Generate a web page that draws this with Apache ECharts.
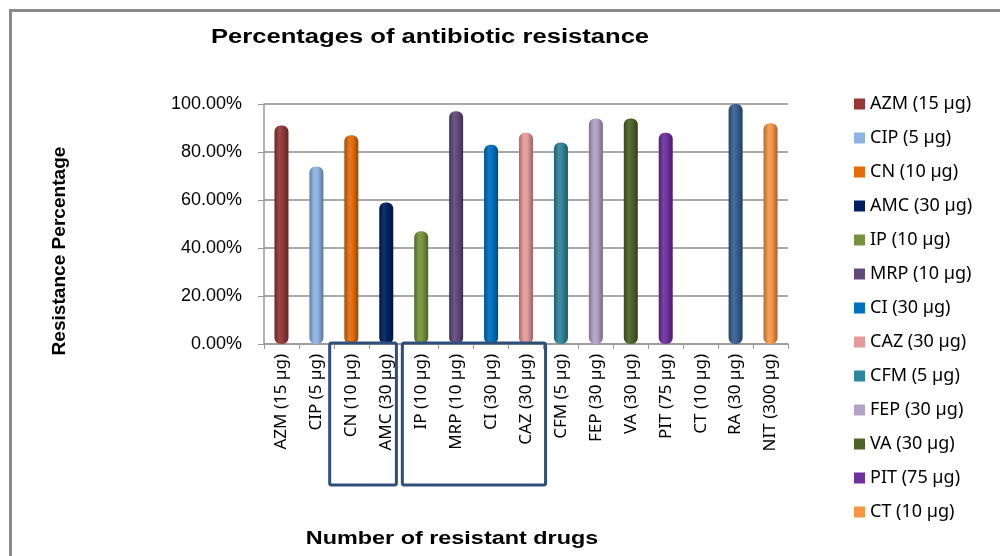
<!DOCTYPE html>
<html>
<head>
<meta charset="utf-8">
<script src="https://cdn.jsdelivr.net/npm/echarts@6/dist/echarts.min.js"></script>
<style>
html,body{margin:0;padding:0;background:#fff;}
#main{width:1000px;height:556px;}
</style>
</head>
<body>
<div id="main"></div>
<script>
var categories = ['AZM (15 µg)','CIP (5 µg)','CN (10 µg)','AMC (30 µg)','IP (10 µg)','MRP (10 µg)','CI (30 µg)','CAZ (30 µg)','CFM (5 µg)','FEP (30 µg)','VA (30 µg)','PIT (75 µg)','CT (10 µg)','RA (30 µg)','NIT (300 µg)'];
var values = [91, 74, 87, 59, 47, 97, 83, 88, 84, 94, 94, 88, 0, 100, 92];
var colors = ['#953735','#8EB4E3','#E46C0A','#002060','#77933C','#604A7B','#0070C0','#E6999A','#31859C','#B3A2C7','#4F6228','#7030A0','#F79646','#376092','#F79646'];
var legendNames = categories.slice(0, 13);
var yTicks = [0, 20, 40, 60, 80, 100];
var boxGroups = [[2, 3], [4, 7]];

function shade(hex, f) {
  var n = parseInt(hex.slice(1), 16);
  var r = (n >> 16) & 255, g = (n >> 8) & 255, b = n & 255;
  function s(c) { return Math.max(0, Math.min(255, Math.round(f < 0 ? c * (1 + f) : c + (255 - c) * f))); }
  return 'rgb(' + s(r) + ',' + s(g) + ',' + s(b) + ')';
}

var chart = echarts.init(document.getElementById('main'));
var series = categories.map(function (name, i) {
  return {
    name: name,
    type: 'bar',
    barWidth: 14,
    barGap: '-100%',
    data: categories.map(function (c, j) { return j === i ? values[i] : '-'; }),
    itemStyle: {
      color: new echarts.graphic.LinearGradient(0, 0, 1, 0, [
        { offset: 0, color: shade(colors[i], -0.3) },
        { offset: 0.35, color: shade(colors[i], 0.08) },
        { offset: 0.6, color: colors[i] },
        { offset: 1, color: shade(colors[i], -0.35) }
      ]),
      borderRadius: [6, 6, 6, 6]
    },
    emphasis: { disabled: true }
  };
});

var option = {
  animation: false,
  backgroundColor: '#fff',
  color: colors,
  legend: {
    data: legendNames.map(function (n, i) { return { name: n, itemStyle: { color: colors[i] } }; }),
    orient: 'vertical',
    left: 849,
    top: 89,
    itemWidth: 11,
    itemHeight: 11,
    itemGap: 14,
    icon: 'rect',
    textStyle: { fontFamily: 'Noto Sans', fontSize: 18, color: '#000', lineHeight: 20, padding: [0, 0, 0, 0] }
  },
  grid: { left: 264, right: 212, top: 104, bottom: 212, containLabel: false },
  xAxis: {
    type: 'category',
    data: categories,
    axisLine: { lineStyle: { color: '#999', width: 1.5 } },
    axisTick: { show: true, length: 5, lineStyle: { color: '#999' } },
    axisLabel: { rotate: 90, fontFamily: 'Noto Sans', fontSize: 17, color: '#000', margin: 10, interval: 0 }
  },
  yAxis: {
    type: 'value',
    min: 0, max: 100, interval: 20,
    axisLine: { show: true, lineStyle: { color: '#999', width: 1.5 } },
    axisTick: { show: true, length: 6, lineStyle: { color: '#999' } },
    splitLine: { lineStyle: { color: '#8c8c8c', width: 1.5 } },
    axisLabel: { fontFamily: 'Liberation Sans', fontSize: 18, color: '#000', margin: 22,
      formatter: function (v) { return yTicks.indexOf(v) >= 0 ? v.toFixed(2) + '%' : ''; } }
  },
  series: series,
  graphic: [
    { type: 'rect', left: 8, top: 8, shape: { width: 1100, height: 700 },
      style: { fill: 'none', stroke: '#8a8a8a', lineWidth: 3 }, silent: true },
    { type: 'text', x: 430, y: 37, scaleX: 1.28,
      style: { text: 'Percentages of antibiotic resistance', fontFamily: 'Liberation Sans', fontWeight: 'bold', fontSize: 20,
        fill: '#000', align: 'center', verticalAlign: 'middle' } },
    { type: 'text', x: 452, y: 539, scaleX: 1.3,
      style: { text: 'Number of resistant drugs', fontFamily: 'Liberation Sans', fontWeight: 'bold', fontSize: 18,
        fill: '#000', align: 'center', verticalAlign: 'middle' } },
    { type: 'text', x: 60, y: 251, rotation: Math.PI / 2, scaleX: 1.06,
      style: { text: 'Resistance Percentage', fontFamily: 'Liberation Sans', fontWeight: 'bold', fontSize: 18,
        fill: '#000', align: 'center', verticalAlign: 'middle' } }
  ]
};
chart.setOption(option);

// annotation boxes around groups of category labels, positioned from the axis scale
var c0 = chart.convertToPixel({ xAxisIndex: 0 }, 0);
var c1 = chart.convertToPixel({ xAxisIndex: 0 }, 1);
var band = c1 - c0;
var y0 = chart.convertToPixel({ yAxisIndex: 0 }, 0);
var boxes = boxGroups.map(function (g, k) {
  var xa = chart.convertToPixel({ xAxisIndex: 0 }, g[0]) - band * (k === 0 ? 0.62 : 0.54);
  var xb = chart.convertToPixel({ xAxisIndex: 0 }, g[1]) + band * (k === 0 ? 0.29 : 0.56);
  return { type: 'rect', shape: { x: xa, y: y0 - 1, width: xb - xa, height: 142, r: 2 },
    style: { fill: 'none', stroke: '#2F4F7A', lineWidth: 3 }, silent: true, z: 100 };
});
chart.setOption({ graphic: option.graphic.concat(boxes) });
</script>
</body>
</html>
